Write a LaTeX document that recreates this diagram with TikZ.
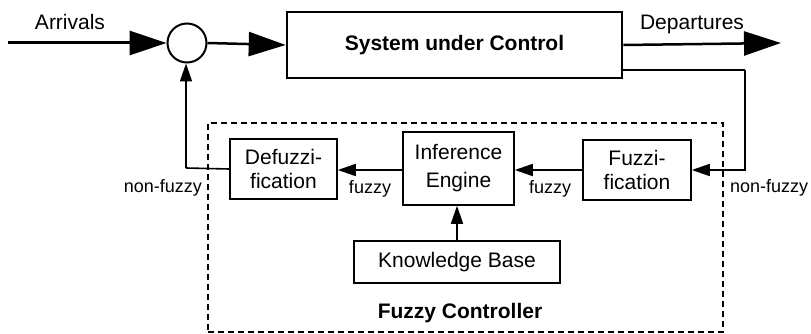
\documentclass[tikz,border=0pt]{standalone}
\usepackage{fontspec}
\setmainfont{Liberation Sans}
\usetikzlibrary{arrows.meta}
\begin{document}
\begin{tikzpicture}[x=1pt,y=-1pt,
  box/.style={draw,line width=1.5pt,inner sep=0pt,align=center,font=\fontsize{21}{24}\selectfont},
  lbl/.style={inner sep=0pt,font=\fontsize{21}{24}\selectfont},
  small/.style={inner sep=0pt,font=\fontsize{18}{20}\selectfont},
  bigarrow/.style={line width=2.5pt,-{Triangle[length=37pt,width=24pt]}},
  smallarrow/.style={line width=1.6pt,-{Triangle[length=18pt,width=12pt]}},
  link/.style={line width=1.6pt}]
\useasboundingbox (0,0) rectangle (811,334);
% nodes
\node[draw,circle,line width=2pt,minimum size=39pt,inner sep=0pt] (sum) at (187,43) {};
\node[box,line width=2.6pt,minimum width=335pt,minimum height=66pt,font=\bfseries\fontsize{21}{24}\selectfont] (sys) at (454.5,45) {System under Control};
\node[box,minimum width=108pt,minimum height=60pt] (fuzz) at (637,170) {Fuzzi-\\fication};
\node[box,minimum width=111pt,minimum height=73pt,font=\fontsize{21}{28}\selectfont] (inf) at (458.5,168.5) {Inference\\Engine};
\node[box,minimum width=107pt,minimum height=60pt] (defuzz) at (283.5,169) {Defuzzi-\\fication};
\node[box,minimum width=206pt,minimum height=42pt] (kb) at (457,262) {Knowledge Base};
\node[draw,dashed,dash pattern=on 6pt off 4pt,line width=1.4pt,minimum width=515pt,minimum height=209pt,inner sep=0pt] (fc) at (465.5,227.5) {};
% labels
\node[lbl] (arr) at (70,22) {Arrivals};
\node[lbl] (dep) at (692,24) {Departures};
\node[lbl,font=\bfseries\fontsize{21}{24}\selectfont] (fclbl) at (460,313) {Fuzzy Controller};
\node[small,anchor=east] (nfl) at (202,188) {non-fuzzy};
\node[small,anchor=west] (nfr) at (730,188) {non-fuzzy};
\node[small] (f1) at (370,189) {fuzzy};
\node[small] (f2) at (550,189) {fuzzy};
% coordinates
\coordinate (in) at (8,43);
\coordinate (out) at (781,43);
\coordinate (tapR) at (622,70);
\coordinate (cornR) at (745,70);
\coordinate (cornL) at (186,168);
% connectors
\draw[bigarrow,line width=3pt] (in) -- (sum.west);
\draw[bigarrow] (sum.east) -- (sys.west);
\draw[bigarrow] (sys.east) -- (out);
\draw[link] (tapR) -- (cornR);
\draw[smallarrow] (cornR) |- (fuzz.east);
\draw[smallarrow] (fuzz.west) -- (inf.east |- fuzz.west);
\draw[smallarrow] (inf.west |- fuzz.west) -- (defuzz.east |- fuzz.west);
\draw[smallarrow] (kb.north) -- (inf.south -| kb.north);
\draw[link] (defuzz.west) -- (cornL);
\draw[smallarrow] (cornL) -- (sum.south -| cornL);
\end{tikzpicture}
\end{document}
